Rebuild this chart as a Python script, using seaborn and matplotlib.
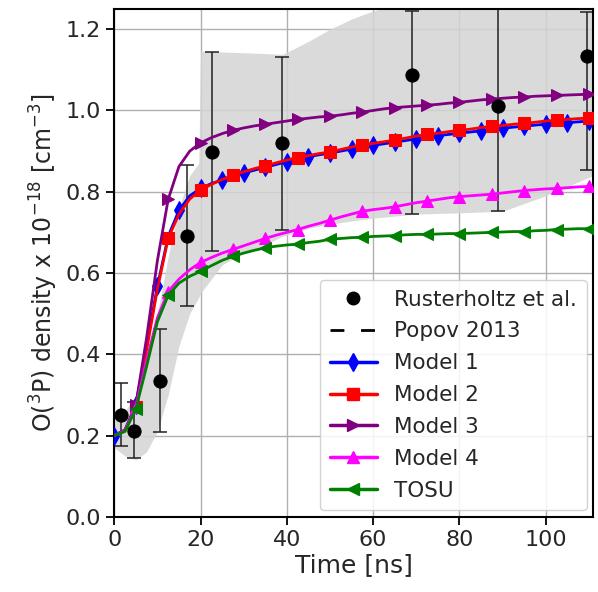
import numpy as np
import pandas as pd
import matplotlib
matplotlib.use("Agg")
import matplotlib.pyplot as plt
from matplotlib.lines import Line2D
import seaborn as sns

# ---- data ----
t = [0, 2.5, 5, 7.5, 10, 12.5, 15, 17.5, 20, 22.5, 25, 27.5, 30, 32.5, 35, 37.5, 40,
     42.5, 45, 47.5, 50, 52.5, 55, 57.5, 60, 62.5, 65, 67.5, 70, 72.5, 75, 77.5, 80,
     82.5, 85, 87.5, 90, 92.5, 95, 97.5, 100, 102.5, 105, 107.5, 110]

model1 = [0.200, 0.213, 0.275, 0.420, 0.567, 0.690, 0.754, 0.790, 0.808, 0.820, 0.829,
          0.838, 0.846, 0.853, 0.860, 0.867, 0.874, 0.880, 0.886, 0.891, 0.895, 0.900,
          0.905, 0.910, 0.914, 0.918, 0.922, 0.926, 0.930, 0.934, 0.938, 0.941, 0.944,
          0.947, 0.950, 0.953, 0.956, 0.959, 0.961, 0.964, 0.966, 0.968, 0.970, 0.972, 0.974]
model2 = [0.200, 0.212, 0.270, 0.410, 0.560, 0.685, 0.745, 0.782, 0.804, 0.818, 0.830,
          0.841, 0.849, 0.857, 0.864, 0.871, 0.878, 0.884, 0.889, 0.894, 0.898, 0.904,
          0.910, 0.915, 0.919, 0.923, 0.927, 0.932, 0.937, 0.941, 0.944, 0.948, 0.951,
          0.954, 0.958, 0.961, 0.963, 0.966, 0.968, 0.971, 0.974, 0.976, 0.978, 0.980, 0.981]
model3 = [0.200, 0.214, 0.275, 0.440, 0.630, 0.781, 0.862, 0.900, 0.920, 0.933, 0.943,
          0.951, 0.957, 0.962, 0.966, 0.970, 0.974, 0.978, 0.981, 0.984, 0.986, 0.989,
          0.993, 0.996, 1.000, 1.004, 1.007, 1.009, 1.011, 1.013, 1.015, 1.018, 1.020,
          1.023, 1.026, 1.028, 1.030, 1.032, 1.033, 1.035, 1.036, 1.037, 1.038, 1.039, 1.040]
model4 = [0.200, 0.212, 0.270, 0.385, 0.490, 0.554, 0.585, 0.608, 0.626, 0.638, 0.649,
          0.658, 0.667, 0.676, 0.685, 0.693, 0.700, 0.707, 0.715, 0.722, 0.730, 0.738,
          0.745, 0.752, 0.756, 0.759, 0.763, 0.768, 0.773, 0.777, 0.781, 0.785, 0.788,
          0.790, 0.792, 0.794, 0.797, 0.800, 0.803, 0.805, 0.807, 0.808, 0.810, 0.812, 0.813]
tosu = [0.200, 0.210, 0.265, 0.370, 0.480, 0.545, 0.575, 0.592, 0.604, 0.618, 0.631,
        0.641, 0.649, 0.656, 0.662, 0.666, 0.669, 0.671, 0.675, 0.678, 0.683, 0.685,
        0.687, 0.688, 0.690, 0.691, 0.692, 0.694, 0.695, 0.695, 0.696, 0.697, 0.697,
        0.698, 0.699, 0.700, 0.701, 0.702, 0.702, 0.704, 0.705, 0.707, 0.708, 0.709, 0.709]

# Rusterholtz et al. measurements
exp_t = [1.6, 4.6, 10.6, 16.9, 22.7, 38.9, 69.0, 89.0, 109.5]
exp_y = [0.251, 0.212, 0.335, 0.690, 0.897, 0.919, 1.087, 1.011, 1.133]
exp_lo = [0.175, 0.145, 0.209, 0.518, 0.654, 0.707, 0.744, 0.752, 0.853]
exp_hi = [0.330, 0.282, 0.461, 0.865, 1.143, 1.131, 1.244, 1.250, 1.242]

# Popov 2013 band
popov_t = [0, 2.5, 5, 7.5, 10, 12.5, 15, 17.5, 19.6, 20, 25, 30, 35, 39, 45, 50, 55,
           60, 70, 80, 90, 100, 111]
popov_hi = [0.24, 0.26, 0.30, 0.38, 0.50, 0.64, 0.76, 0.84, 0.87, 1.146, 1.144, 1.142,
            1.140, 1.138, 1.170, 1.200, 1.225, 1.245, 1.27, 1.29, 1.30, 1.30, 1.30]
popov_lo = [0.17, 0.15, 0.14, 0.16, 0.21, 0.30, 0.42, 0.50, 0.54, 0.55, 0.62, 0.65,
            0.67, 0.69, 0.71, 0.72, 0.728, 0.735, 0.745, 0.748, 0.752, 0.79, 0.84]

# ---- style ----
sns.set_style("ticks")
plt.rcParams["font.family"] = ["DejaVu Sans"]

fig = plt.figure(figsize=(5.98, 5.92), dpi=100)
ax = fig.add_axes([0.191, 0.127, 0.801, 0.858])

ax.fill_between(popov_t, popov_lo, popov_hi, color="#d4d4d4", alpha=0.85,
                linewidth=0, zorder=1)

df = pd.DataFrame({"t": t, "Model 1": model1, "Model 2": model2, "Model 3": model3,
                   "Model 4": model4, "TOSU": tosu})

specs = [("Model 1", "blue", "d", list(range(0, len(t), 2))),
         ("Model 2", "red", "s", list(range(2, len(t), 3))),
         ("Model 3", "purple", ">", list(range(2, len(t), 3))),
         ("Model 4", "magenta", "^", list(range(2, len(t), 3))),
         ("TOSU", "green", "<", list(range(2, len(t), 3)))]

# errorbars
yerr = [np.array(exp_y) - np.array(exp_lo), np.array(exp_hi) - np.array(exp_y)]
ax.errorbar(exp_t, exp_y, yerr=yerr, fmt="none", ecolor="#222222", elinewidth=1.1,
            capsize=5, capthick=1.1, zorder=2)

for name, col, mk, me in specs:
    sns.lineplot(data=df, x="t", y=name, ax=ax, color=col, marker=mk, markevery=me,
                 markersize=9, markeredgecolor=col, linewidth=2, errorbar=None,
                 zorder=3)

sns.scatterplot(x=exp_t, y=exp_y, ax=ax, color="black", s=90, edgecolor="black",
                zorder=5)

ax.set_xlim(0, 111)
ax.set_ylim(0, 1.25)
ax.set_xticks([0, 20, 40, 60, 80, 100])
ax.set_yticks([0.0, 0.2, 0.4, 0.6, 0.8, 1.0, 1.2])
ax.grid(True, color="#b0b0b0", linewidth=1.0)
ax.set_axisbelow(True)
for sp in ax.spines.values():
    sp.set_color("black")
    sp.set_linewidth(1.5)
ax.tick_params(axis="both", labelsize=16, width=1.3, length=6, color="black")
ax.set_xlabel("Time [ns]", fontsize=18, labelpad=2)
ax.set_ylabel("O($^3$P) density x 10$^{-18}$ [cm$^{-3}$]", fontsize=17, labelpad=4)

handles = [Line2D([], [], color="black", marker="o", linestyle="none", markersize=9),
           Line2D([], [], color="black", linestyle=(0, (5, 6)), linewidth=2)]
labels = ["Rusterholtz et al.", "Popov 2013"]
for name, col, mk, me in specs:
    handles.append(Line2D([], [], color=col, marker=mk, markersize=9, linewidth=2.5))
    labels.append(name)
ax.legend(handles, labels, loc="lower right", fontsize=15.5, frameon=True,
          framealpha=0.85, edgecolor="#cccccc", handlelength=2.2, labelspacing=0.55,
          borderpad=0.45, handletextpad=0.8, fancybox=True, borderaxespad=0.3)

fig.savefig("out.png", dpi=100)
